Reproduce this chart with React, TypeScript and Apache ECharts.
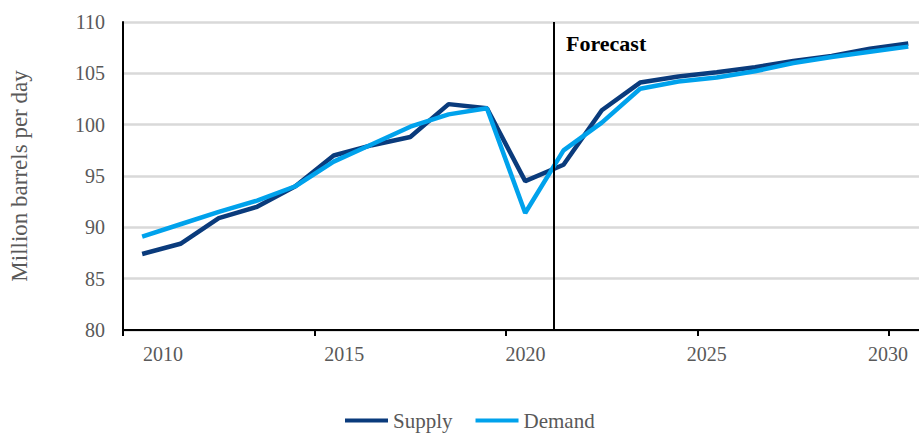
import React, { useEffect, useRef } from "react";
import * as echarts from "echarts";

const years = [2010, 2011, 2012, 2013, 2014, 2015, 2016, 2017, 2018, 2019, 2020, 2021, 2022, 2023, 2024, 2025, 2026, 2027, 2028, 2029, 2030];
const supply = [87.4, 88.4, 90.9, 92.0, 94.0, 97.0, 98.0, 98.8, 102.0, 101.6, 94.5, 96.1, 101.4, 104.1, 104.7, 105.1, 105.6, 106.2, 106.7, 107.4, 107.9];
const demand = [89.1, 90.3, 91.5, 92.6, 94.0, 96.4, 98.1, 99.8, 101.0, 101.6, 91.4, 97.5, 100.2, 103.5, 104.2, 104.6, 105.2, 106.0, 106.6, 107.1, 107.6];
const xLabels = [2010, 2015, 2020, 2025, 2030];
const xTicks = [2009.5, 2014.5, 2019.5, 2024.5, 2029.5];
const forecastStart = 2020.75;

const FONT = "Liberation Serif";
const GRAY = "#595959";

export default function App() {
  const ref = useRef<HTMLDivElement>(null);
  useEffect(() => {
    document.body.style.margin = "0";
    if (!ref.current) return;
    const chart = echarts.init(ref.current, null, { renderer: "svg" });
    chart.setOption({
      animation: false,
      grid: { left: 123, right: 0, top: 22, bottom: 105, containLabel: false },
      legend: {
        left: 340,
        top: 405,
        icon: "rect",
        itemWidth: 43,
        itemHeight: 4,
        itemGap: 23,
        textStyle: { fontFamily: FONT, fontSize: 21, color: GRAY },
        data: ["Supply", "Demand"],
      },
      xAxis: [
        {
          type: "value",
          min: 2009.5,
          max: 2030.28,
          axisLine: { show: true, lineStyle: { color: "#000", width: 2 } },
          axisTick: { show: true, customValues: xTicks, length: 6, lineStyle: { color: "#000", width: 2 } },
          axisLabel: { show: false },
          splitLine: { show: false },
        },
        {
          type: "value",
          min: 2008.897,
          max: 2030.855,
          position: "bottom",
          axisLine: { show: false },
          axisTick: { show: false },
          splitLine: { show: false },
          axisLabel: {
            show: true,
            customValues: xLabels,
            margin: 14,
            fontFamily: FONT,
            fontSize: 20,
            color: GRAY,
            formatter: (v: number) => String(Math.round(v)),
          },
        },
      ],
      yAxis: {
        type: "value",
        min: 80,
        max: 110,
        interval: 5,
        name: "Million barrels per day",
        nameLocation: "middle",
        nameGap: 92,
        nameTextStyle: { fontFamily: FONT, fontSize: 23, color: GRAY },
        axisLine: { show: true, lineStyle: { color: "#000", width: 2 } },
        axisTick: { show: false },
        axisLabel: { fontFamily: FONT, fontSize: 20, color: GRAY, margin: 18 },
        splitLine: { show: true, lineStyle: { color: "#d9d9d9", width: 2.5 } },
      },
      graphic: [
        {
          type: "text",
          left: 566,
          top: 32,
          style: { text: "Forecast", fontFamily: FONT, fontSize: 22, fontWeight: "bold", fill: "#000" },
        },
      ],
      series: [
        {
          name: "Supply",
          type: "line",
          xAxisIndex: 0,
          symbol: "none",
          data: years.map((y, i) => [y, supply[i]]),
          lineStyle: { color: "#0a3b7c", width: 4.5 },
          itemStyle: { color: "#0a3b7c" },
          z: 3,
          markLine: {
            silent: true,
            symbol: "none",
            label: { show: false },
            lineStyle: { color: "#000", width: 2, type: "solid" },
            data: [{ xAxis: forecastStart }],
          },
        },
        {
          name: "Demand",
          type: "line",
          xAxisIndex: 0,
          symbol: "none",
          data: years.map((y, i) => [y, demand[i]]),
          lineStyle: { color: "#00a2ec", width: 4.5 },
          itemStyle: { color: "#00a2ec" },
          z: 4,
        },
      ],
    });
    return () => chart.dispose();
  }, []);
  return <div ref={ref} style={{ width: 919, height: 435 }} />;
}
